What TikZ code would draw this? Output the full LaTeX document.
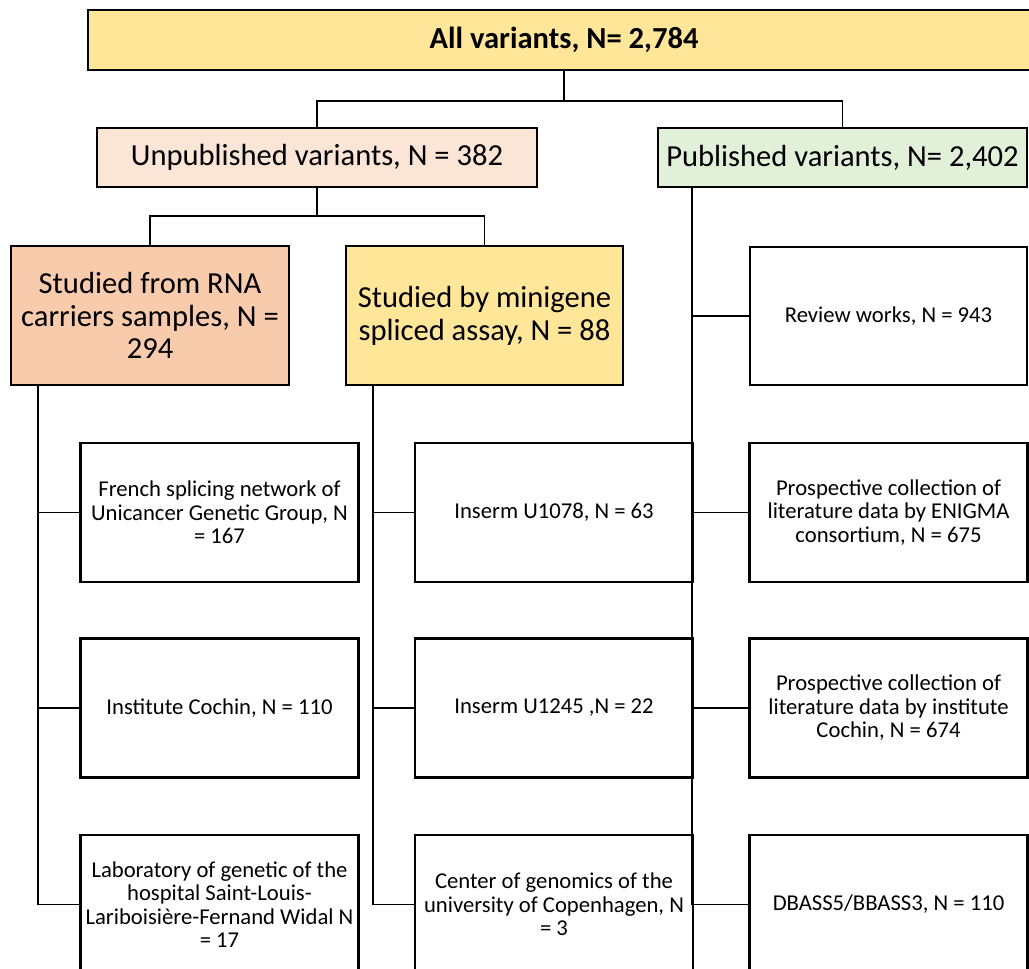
\documentclass[tikz,border=0pt]{standalone}
\usepackage{fontspec}
\setmainfont{Carlito}
\definecolor{sandyellow}{HTML}{FFE699}
\definecolor{palepink}{HTML}{FBE5D6}
\definecolor{palegreen}{HTML}{E2F0D9}
\definecolor{salmon}{HTML}{F8CBAD}
\tikzset{
  box/.style={draw, line width=1.3pt, align=center, inner sep=1pt},
  bigbox/.style={box, font=\fontsize{17.4}{18.7}\selectfont},
  smallbox/.style={box, minimum width=5.56cm, minimum height=2.78cm,
    font=\fontsize{12.9}{13.4}\selectfont},
  link/.style={line width=0.8pt}
}
\begin{document}
\begin{tikzpicture}[x=0.02cm, y=-0.02cm]
  \useasboundingbox (0,0) rectangle (1029,969);
  \clip (0,0) rectangle (1029,969);
  % top levels
  \node[bigbox, fill=sandyellow, minimum width=19.04cm, minimum height=1.2cm,
    font=\fontsize{17.4}{18.7}\selectfont\bfseries] (all) at (564,40) {All variants, N= 2,784};
  \node[bigbox, fill=palepink, minimum width=8.8cm, minimum height=1.18cm] (unpub) at (317,157.5) {Unpublished variants, N = 382};
  \node[bigbox, fill=palegreen, minimum width=7.38cm, minimum height=1.18cm] (pub) at (842.5,157.5) {Published variants, N= 2,402};
  \node[bigbox, fill=salmon, minimum width=5.56cm, minimum height=2.78cm] (rna) at (150,315.5) {Studied from RNA\\carriers samples, N =\\294};
  \node[bigbox, fill=sandyellow, minimum width=5.54cm, minimum height=2.78cm] (mini) at (484.5,315.5) {Studied by minigene\\spliced assay, N = 88};
  \node[smallbox, minimum width=5.54cm, minimum height=2.76cm] (review) at (888.5,316) {Review works, N = 943};
  % RNA column
  \node[smallbox] (rna1) at (219.5,512.5) {French splicing network of\\Unicancer Genetic Group, N\\= 167};
  \node[smallbox] (rna2) at (219.5,708) {Institute Cochin, N = 110};
  \node[smallbox] (rna3) at (219.5,904.5) {Laboratory of genetic of the\\hospital Saint-Louis-\\Lariboisière-Fernand Widal N\\= 17};
  % minigene column
  \node[smallbox] (mini1) at (554,512.5) {Inserm U1078, N = 63};
  \node[smallbox] (mini2) at (554,708) {Inserm U1245 ,N = 22};
  \node[smallbox] (mini3) at (554,904.5) {Center of genomics of the\\university of Copenhagen, N\\= 3};
  % published column
  \node[smallbox] (pub1) at (888.5,512.5) {Prospective collection of\\literature data by ENIGMA\\consortium, N = 675};
  \node[smallbox] (pub2) at (888.5,708) {Prospective collection of\\literature data by institute\\Cochin, N = 674};
  \node[smallbox] (pub3) at (888.5,904.5) {DBASS5/BBASS3, N = 110};
  % connectors
  \draw[link] (all.south) -- ++(0,30) coordinate (j0);
  \draw[link] (unpub.north) |- (j0) -| (pub.north);
  \draw[link] (unpub.south) -- ++(0,28) coordinate (j1);
  \draw[link] (rna.north) |- (j1) -| (mini.north);
  \draw[link] ([xshift=0.56cm]rna.south west) coordinate (s1) |- (rna3.west);
  \draw[link] (s1 |- rna1.west) -- (rna1.west);
  \draw[link] (s1 |- rna2.west) -- (rna2.west);
  \draw[link] ([xshift=0.56cm]mini.south west) coordinate (s2) |- (mini3.west);
  \draw[link] (s2 |- mini1.west) -- (mini1.west);
  \draw[link] (s2 |- mini2.west) -- (mini2.west);
  \draw[link] ([xshift=0.7cm]pub.south west) coordinate (s3) |- (pub3.west);
  \draw[link] (s3 |- review.west) -- (review.west);
  \draw[link] (s3 |- pub1.west) -- (pub1.west);
  \draw[link] (s3 |- pub2.west) -- (pub2.west);
\end{tikzpicture}
\end{document}
